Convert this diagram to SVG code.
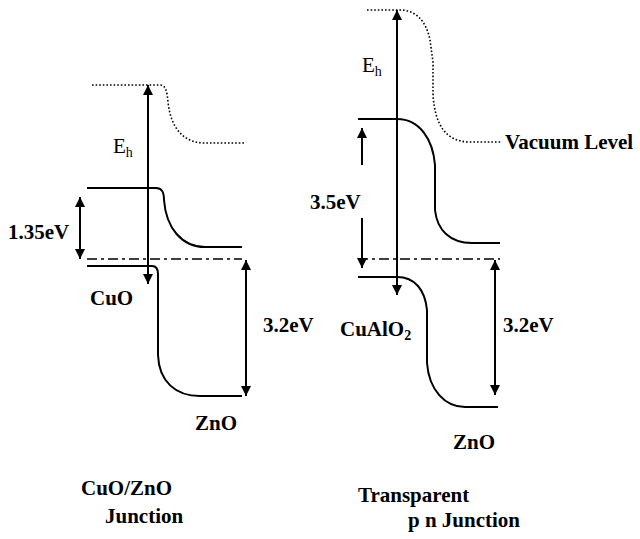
<svg xmlns="http://www.w3.org/2000/svg" width="640" height="539" viewBox="0 0 640 539">
<defs>
<marker id="ah" viewBox="0 0 10 10" refX="10" refY="5" markerWidth="10" markerHeight="10" markerUnits="userSpaceOnUse" orient="auto-start-reverse">
<path d="M0,0 L10,5 L0,10 Z" fill="#000"/>
</marker>
</defs>
<style>
.band{fill:none;stroke:#000;stroke-width:2}
.vac{fill:none;stroke:#000;stroke-width:1.6;stroke-dasharray:1.6 2}
.dd{fill:none;stroke:#000;stroke-width:1.5;stroke-dasharray:10 4 3 4}
.arr{stroke:#000;stroke-width:2;fill:none}
.lb{font-family:"Liberation Serif","Times New Roman",serif;font-weight:bold;font-size:21px;fill:#000}
.eh{font-family:"Liberation Serif","Times New Roman",serif;font-size:21px;fill:#000}
.sub{font-size:14px}
</style>
<rect width="640" height="539" fill="#fff"/>
<g id="left-diagram">
<g id="left-vacuum"><path class="vac" d="M92,85 H160 C166,85 167,92 168,102 C171,130 185,143 205,143 H245"/></g>
<g id="left-conduction"><path class="band" d="M87,188 H156 C162,188 164,192 164,200 C166,228 182,247 205,247 H242"/></g>
<g id="left-fermi"><path class="dd" d="M87,259 H242"/></g>
<g id="left-valence"><path class="band" d="M87,266 H152 C156,266 158,269 158,274 V355 C159,382 176,396 200,396 H242"/></g>
<g id="left-labels">
<text class="eh" x="113" y="153">E<tspan class="sub" dy="4">h</tspan></text>
<text class="lb" x="8" y="239">1.35eV</text>
<text class="lb" x="90" y="305">CuO</text>
<text class="lb" x="263" y="332">3.2eV</text>
<text class="lb" x="195" y="430">ZnO</text>
<text class="lb" x="81" y="495">CuO/ZnO</text>
<text class="lb" x="105" y="523">Junction</text>
</g>
</g>
<g id="right-diagram">
<g id="right-vacuum"><path class="vac" d="M367,10 H400 C415,10 426,20 430,40 L433,62 V95 C435,125 446,142 470,142 H502"/></g>
<g id="right-conduction"><path class="band" d="M358,119 H397 C420,119 433,140 435,165 V210 C437,230 450,243 472,243 H500"/></g>
<g id="right-fermi"><path class="dd" d="M358,259 H500"/></g>
<g id="right-valence"><path class="band" d="M358,277 H397 C415,277 425,290 427,310 V363 C429,390 445,407 465,407 H498"/></g>
<g id="right-labels">
<text class="eh" x="362" y="72">E<tspan class="sub" dy="4">h</tspan></text>
<text class="lb" x="505" y="149">Vacuum Level</text>
<text class="lb" x="310" y="209">3.5eV</text>
<text class="lb" x="340" y="336">CuAlO<tspan class="sub" dy="4">2</tspan></text>
<text class="lb" x="503" y="332">3.2eV</text>
<text class="lb" x="453" y="449">ZnO</text>
<text class="lb" x="358" y="502">Transparent</text>
<text class="lb" x="408" y="527">p n Junction</text>
</g>
</g>
<g id="connectors">
<line class="arr" x1="148" y1="284" x2="148" y2="85" marker-start="url(#ah)" marker-end="url(#ah)"/>
<line class="arr" x1="80" y1="197" x2="80" y2="259" marker-start="url(#ah)" marker-end="url(#ah)"/>
<line class="arr" x1="246" y1="260" x2="246" y2="396" marker-start="url(#ah)" marker-end="url(#ah)"/>
<line class="arr" x1="397" y1="295" x2="397" y2="10" marker-start="url(#ah)" marker-end="url(#ah)"/>
<line class="arr" x1="362" y1="165" x2="362" y2="128" marker-end="url(#ah)"/>
<line class="arr" x1="362" y1="218" x2="362" y2="268" marker-end="url(#ah)"/>
<line class="arr" x1="495" y1="260" x2="495" y2="395" marker-start="url(#ah)" marker-end="url(#ah)"/>
</g>
</svg>
